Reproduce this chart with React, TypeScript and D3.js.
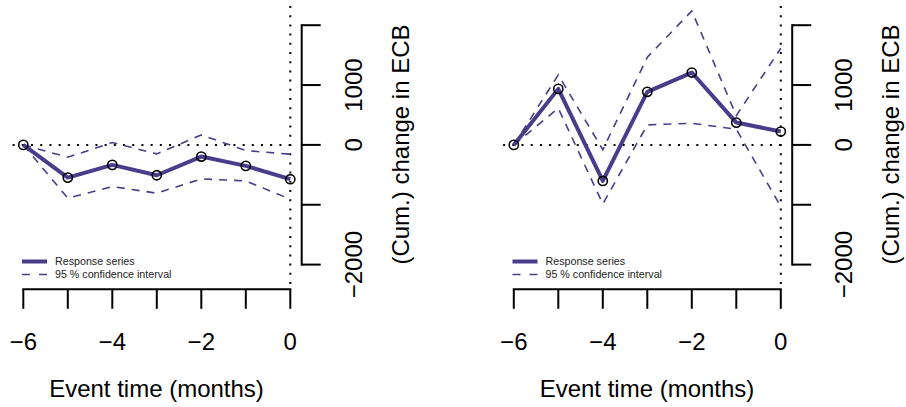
import React from "react";
import * as d3 from "d3";

const months = [-6, -5, -4, -3, -2, -1, 0];
const leftResponse = [0, -546, -334, -507, -195, -351, -573];
const leftUpper = [0, -206, 39, -150, 167, -95, -156];
const leftLower = [0, -891, -696, -807, -568, -602, -908];
const rightResponse = [0, 936, -602, 886, 1209, 373, 223];
const rightUpper = [0, 1170, -80, 1465, 2239, 490, 1615];
const rightLower = [0, 613, -986, 334, 362, 262, -1031];
const xTicks = [-6, -5, -4, -3, -2, -1, 0];
const xTickLabels = [-6, -4, -2, 0];
const yTicks = [-2000, -1000, 0, 1000, 2000];
const yTickLabels = [-2000, 0, 1000];
const xTitle = "Event time (months)";
const yTitle = "(Cum.) change in ECB";
const legendLabels = ["Response series", "95 % confidence interval"];

const COLOR = "#483D8B";
const FONT = "Arial, Liberation Sans, Helvetica, sans-serif";
const txt = { fontFamily: FONT };

const fmt = (v: number) => (v < 0 ? "\u2212" + Math.abs(v) : String(v));

function Panel({ dx, resp, up, lo }: { dx: number; resp: number[]; up: number[]; lo: number[] }) {
  const x = d3.scaleLinear().domain([-6, 0]).range([23.3, 290.3]);
  const y = d3.scaleLinear().domain([-2000, 2000]).range([264.6, 25.2]);
  const line = d3
    .line<number>()
    .x((_, i) => x(months[i]))
    .y((d) => y(d));
  const axisY = 289.3;
  const axisX = 301.7;
  const regionTop = 6;
  return (
    <g transform={`translate(${dx},0)`}>
      <line x1={x(-6.24)} x2={x(0)} y1={y(0)} y2={y(0)} stroke="#000" strokeWidth={2} strokeDasharray="2,7.2" />
      <line x1={x(0)} x2={x(0)} y1={regionTop} y2={axisY} stroke="#000" strokeWidth={2} strokeDasharray="2,7.2" />
      <path d={line(up) || ""} fill="none" stroke={COLOR} strokeWidth={1.6} strokeDasharray="8,7" />
      <path d={line(lo) || ""} fill="none" stroke={COLOR} strokeWidth={1.6} strokeDasharray="8,7" />
      <path d={line(resp) || ""} fill="none" stroke={COLOR} strokeWidth={4} strokeLinejoin="round" />
      {resp.map((v, i) => (
        <circle key={i} cx={x(months[i])} cy={y(v)} r={4.6} fill="none" stroke="#000" strokeWidth={1.6} />
      ))}
      <line x1={x(-6)} x2={x(0)} y1={axisY} y2={axisY} stroke="#000" strokeWidth={2} strokeLinecap="square" />
      {xTicks.map((t) => (
        <line key={t} x1={x(t)} x2={x(t)} y1={axisY} y2={axisY + 19.5} stroke="#000" strokeWidth={2} />
      ))}
      {xTickLabels.map((t) => (
        <text key={t} x={x(t)} y={350} textAnchor="middle" fontSize={24} style={txt} fill="#000">
          {fmt(t)}
        </text>
      ))}
      <text x={156.5} y={396.5} textAnchor="middle" fontSize={24} style={txt} fill="#000">
        {xTitle}
      </text>
      <line x1={axisX} x2={axisX} y1={y(-2000)} y2={y(2000)} stroke="#000" strokeWidth={2} strokeLinecap="square" />
      {yTicks.map((t) => (
        <line key={t} x1={axisX} x2={axisX + 19} y1={y(t)} y2={y(t)} stroke="#000" strokeWidth={2} />
      ))}
      {yTickLabels.map((t) => (
        <text
          key={t}
          transform={`translate(${361.5},${y(t)}) rotate(-90)`}
          textAnchor="middle"
          fontSize={24}
          style={txt}
          fill="#000"
        >
          {fmt(t)}
        </text>
      ))}
      <text
        transform={`translate(${408.5},${144.5}) rotate(-90)`}
        textAnchor="middle"
        fontSize={24}
        style={txt}
        fill="#000"
      >
        {yTitle}
      </text>
      <line x1={22} x2={47} y1={261.5} y2={261.5} stroke={COLOR} strokeWidth={4} />
      <line x1={22} x2={47} y1={274.5} y2={274.5} stroke={COLOR} strokeWidth={1.6} strokeDasharray="8,9" />
      <text x={55} y={265.3} fontSize={10.7} style={txt} fill="#222">
        {legendLabels[0]}
      </text>
      <text x={55} y={278.3} fontSize={10.7} style={txt} fill="#222">
        {legendLabels[1]}
      </text>
    </g>
  );
}

export default function App() {
  return (
    <svg width={906} height={407} style={{ position: "absolute", left: 0, top: 0, background: "#fff" }}>
      <rect width={906} height={407} fill="#fff" />
      <Panel dx={0} resp={leftResponse} up={leftUpper} lo={leftLower} />
      <Panel dx={490.5} resp={rightResponse} up={rightUpper} lo={rightLower} />
    </svg>
  );
}
